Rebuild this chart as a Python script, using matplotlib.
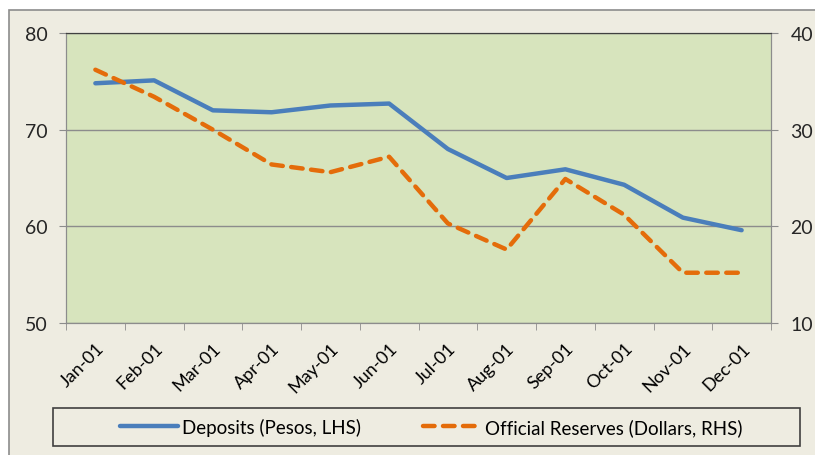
import numpy as np
import matplotlib
matplotlib.use('Agg')
import matplotlib.pyplot as plt
import matplotlib.transforms as mtransforms
from matplotlib.patches import Rectangle

# dati
months   = ['Jan-01', 'Feb-01', 'Mar-01', 'Apr-01', 'May-01', 'Jun-01',
            'Jul-01', 'Aug-01', 'Sep-01', 'Oct-01', 'Nov-01', 'Dec-01']
deposits = [74.8, 75.1, 72.0, 71.8, 72.5, 72.7, 68.0, 65.0, 65.9, 64.3, 60.9, 59.6]
reserves = [36.2, 33.4, 30.0, 26.4, 25.6, 27.2, 20.3, 17.6, 24.9, 21.2, 15.2, 15.2]
left_ticks  = [50, 60, 70, 80]
right_ticks = [10, 20, 30, 40]

plt.rcParams['font.family'] = ['Lato', 'DejaVu Sans']

W, H = 815, 456
fig = plt.figure(figsize=(W/100, H/100), dpi=100)
fig.patch.set_facecolor('white')

# sfondo esterno del grafico
fig.add_artist(Rectangle((9/W, -0.1), 1, 1.1 - 11/H, transform=fig.transFigure,
                         facecolor='#EEECE1', edgecolor='#8C8C8C', lw=1.2, zorder=-10))
# riquadro della legenda
fig.add_artist(Rectangle((53/W, 1 - 447/H), 747/W, 38/H, transform=fig.transFigure,
                         facecolor='none', edgecolor='#404040', lw=1.2, zorder=5))

ax = fig.add_axes([66/W, 1 - 324/H, 705/W, 290/H])
ax.set_facecolor('#D7E4BD')
x = np.arange(len(months))

ax.plot(x, deposits, color='#4A7EBB', lw=3.2, solid_capstyle='round',
        label='Deposits (Pesos, LHS)', zorder=3)
ax.set_xlim(-0.5, len(months) - 0.5)
ax.set_ylim(50, 80)
ax.set_yticks(left_ticks)
ax.yaxis.grid(True, color='#8C8C8C', lw=1)
ax.set_axisbelow(True)

ax2 = ax.twinx()
ax2.plot(x, reserves, color='#E46C0A', lw=3.2, linestyle=(0, (2.6, 1.9)),
         dash_capstyle='round', label='Official Reserves (Dollars, RHS)', zorder=3)
ax2.set_ylim(10, 40)
ax2.set_yticks(right_ticks)

ax.set_xticks(x)
ax.set_xticklabels(months, rotation=45, ha='right', rotation_mode='anchor', fontsize=13)
shift = mtransforms.ScaledTranslation(5/100, 0, fig.dpi_scale_trans)
for lab in ax.get_xticklabels():
    lab.set_transform(lab.get_transform() + shift)
ax.set_xticks(np.arange(-0.5, len(months)), minor=True)
ax.tick_params(axis='x', which='major', length=0, pad=12)
ax.tick_params(axis='x', which='minor', length=5, color='#8C8C8C', direction='out')
ax.tick_params(axis='y', length=5, pad=8, colors='#8C8C8C', labelcolor='#262626', labelsize=14)
ax2.tick_params(axis='y', length=5, pad=9, colors='#8C8C8C', labelcolor='#262626', labelsize=14)

for a in (ax, ax2):
    for s in a.spines.values():
        s.set_color('#8C8C8C')
ax.spines['top'].set_color('#404040')
ax2.spines['top'].set_color('#404040')

h1, l1 = ax.get_legend_handles_labels()
h2, l2 = ax2.get_legend_handles_labels()
leg = fig.legend(h1 + h2, l1 + l2, loc='center', bbox_to_anchor=(431/W, 1 - 428/H),
                 ncol=2, fontsize=13.5, frameon=False, handlelength=3.1,
                 columnspacing=3.3, handletextpad=0.2)

plt.savefig('out.png', dpi=100)
